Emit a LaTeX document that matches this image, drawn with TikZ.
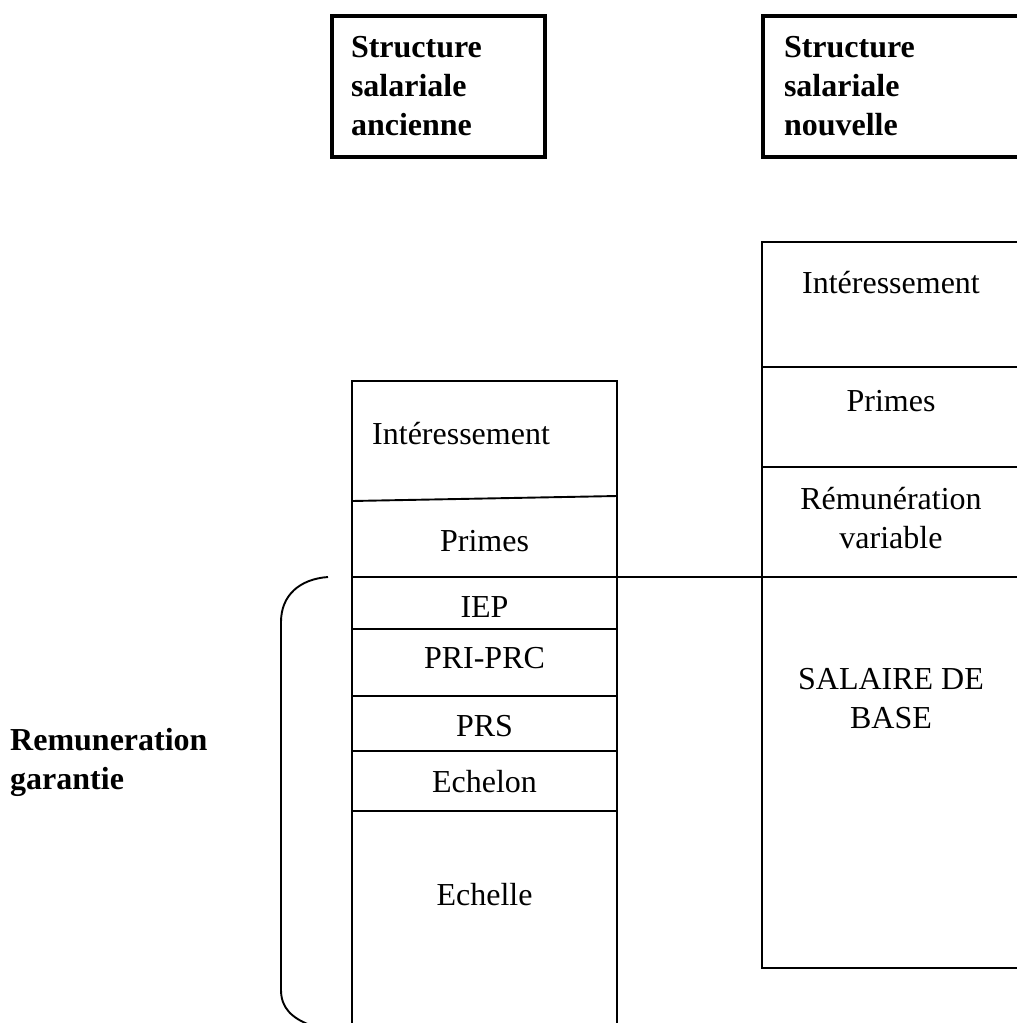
\documentclass[tikz,border=0pt]{standalone}
\usepackage{fontspec}
\setmainfont{Liberation Serif}
\begin{document}
\begin{tikzpicture}[x=1pt,y=-1pt,
  lbl/.style={font=\fontsize{32}{39}\selectfont, inner sep=0pt, anchor=base},
  boldlbl/.style={font=\fontsize{32}{39}\selectfont\bfseries, inner sep=0pt, anchor=base west},
  head/.style={font=\fontsize{32}{39}\selectfont\bfseries, draw, line width=4pt,
    align=left, inner ysep=0pt, anchor=north west, minimum height=140.5pt},
  rule/.style={line width=1.9pt}]
\path[use as bounding box, clip] (0,0) rectangle (1017,1023);

% header boxes
\node[head, inner xsep=19.5pt, text width=174pt] (oldhead) at (329.5,14)
  {Structure\\salariale\\ancienne};
\node[head, inner xsep=21.5pt, text width=240pt] (newhead) at (760.5,14)
  {Structure\\salariale\\nouvelle};

% old salary structure column
\draw[rule] (352,1030) -- (352,381) -- (617,381) -- (617,1030);
\draw[rule] (352,501) -- (617,496);
\draw[rule] (352,577) -- (1030,577);
\foreach \yy in {629,696,751,811}
  \draw[rule] (352,\yy) -- (617,\yy);

\node[lbl, anchor=base west] (oldint) at (372,444) {Intéressement};
\node[lbl] (oldprimes) at (484.5,551) {Primes};
\node[lbl] (iep) at (484.5,617) {IEP};
\node[lbl] (pri) at (484.5,668) {PRI-PRC};
\node[lbl] (prs) at (484.5,736) {PRS};
\node[lbl] (echelon) at (484.5,792) {Echelon};
\node[lbl] (echelle) at (484.5,905) {Echelle};

% new salary structure column
\draw[rule] (1030,242) -- (762,242) -- (762,968) -- (1030,968);
\foreach \yy in {367,467}
  \draw[rule] (762,\yy) -- (1030,\yy);

\node[lbl] (newint) at (891,293) {Intéressement};
\node[lbl] (newprimes) at (891,411) {Primes};
\node[lbl, align=center] (remvar) at (891,548)
  {Rémunération\\variable};
\node[lbl, align=center] (base) at (891,728)
  {SALAIRE DE\\BASE};

% guaranteed pay bracket
\draw[rule] (328,577) .. controls (300,579) and (281,595) .. (281,622)
  -- (281,990) .. controls (281,1008) and (292,1018) .. (310,1025);
\node[boldlbl, align=left] (garantie) at (10,789) {Remuneration\\garantie};
\end{tikzpicture}
\end{document}
